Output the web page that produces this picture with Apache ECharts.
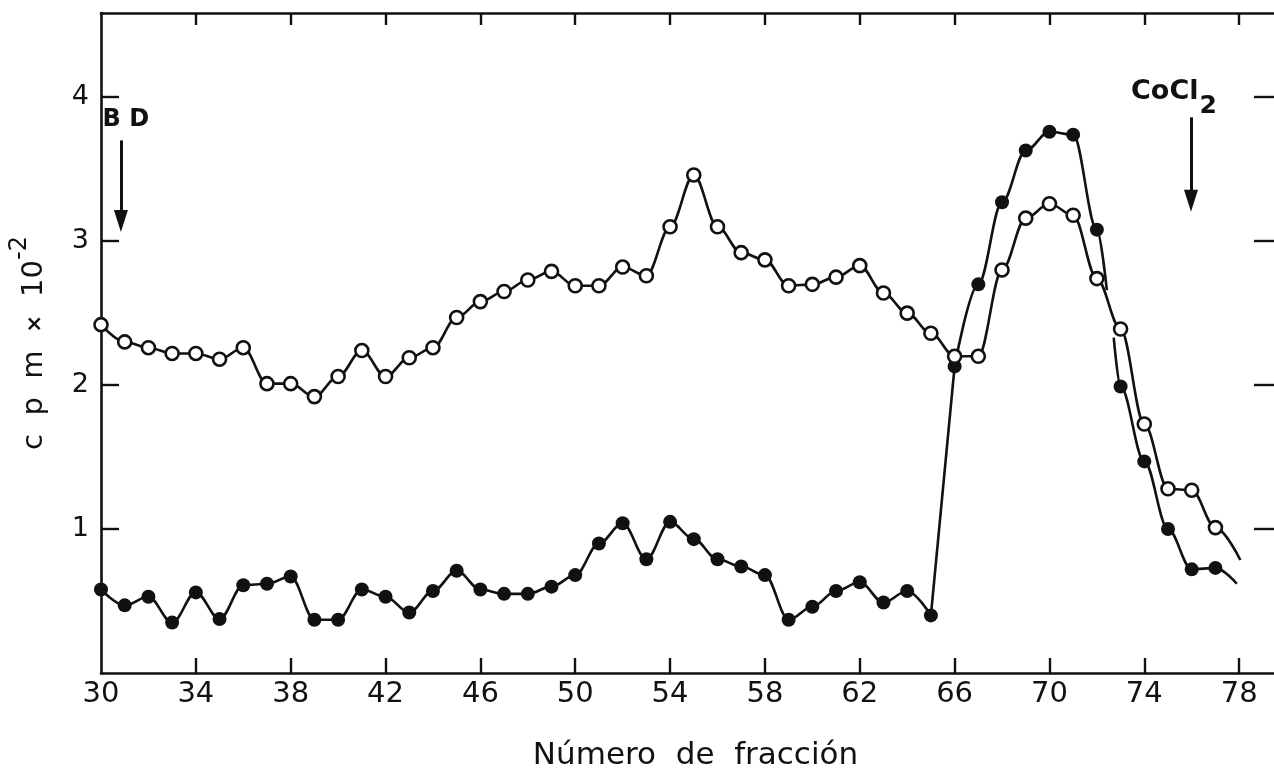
<!DOCTYPE html>
<html>
<head>
<meta charset="utf-8">
<script src="https://cdn.jsdelivr.net/npm/echarts@6/dist/echarts.min.js"></script>
<style>
  html, body { margin: 0; padding: 0; background: #fff; }
  #chart { width: 1274px; height: 769px; }
</style>
</head>
<body>
<div id="chart"></div>
<script>
// Fraction numbers collected from the column
const fractions = [30, 31, 32, 33, 34, 35, 36, 37, 38, 39, 40, 41, 42, 43, 44, 45,
                   46, 47, 48, 49, 50, 51, 52, 53, 54, 55, 56, 57, 58, 59, 60, 61,
                   62, 63, 64, 65, 66, 67, 68, 69, 70, 71, 72, 73, 74, 75, 76, 77];

// Radioactivity (cpm x 10^-2), open circles
const openValues = [2.42, 2.30, 2.26, 2.22, 2.22, 2.18, 2.26, 2.01, 2.01, 1.92, 2.06, 2.24,
                    2.06, 2.19, 2.26, 2.47, 2.58, 2.65, 2.73, 2.79, 2.69, 2.69, 2.82, 2.76,
                    3.10, 3.46, 3.10, 2.92, 2.87, 2.69, 2.70, 2.75, 2.83, 2.64, 2.50, 2.36,
                    2.20, 2.20, 2.80, 3.16, 3.26, 3.18, 2.74, 2.39, 1.73, 1.28, 1.27, 1.01];

// Radioactivity (cpm x 10^-2), filled circles
const filledValues = [0.58, 0.47, 0.53, 0.35, 0.56, 0.375, 0.61, 0.62, 0.67, 0.37, 0.37, 0.58,
                      0.53, 0.42, 0.57, 0.71, 0.58, 0.55, 0.55, 0.60, 0.68, 0.90, 1.04, 0.79,
                      1.05, 0.93, 0.79, 0.74, 0.68, 0.37, 0.46, 0.57, 0.63, 0.49, 0.57, 0.40,
                      2.13, 2.70, 3.27, 3.63, 3.76, 3.74, 3.08, 1.99, 1.47, 1.00, 0.72, 0.73];

// Free curve ends (no symbol): where the pen stops / restarts
const openTail = [78.05, 0.785];
const filledBreakEnd = [72.42, 2.66];
const filledBreakStart = [72.71, 2.33];
const filledTail = [77.9, 0.62];

// The filled curve rises in a straight step between these fractions,
// and is interrupted after the last one of its peak
const filledStep = [65, 66];
const filledSplitAt = 72;

// Tick positions / labels
const xTicks = [30, 34, 38, 42, 46, 50, 54, 58, 62, 66, 70, 74, 78];
const yTicks = [1, 2, 3, 4];

// Arrow annotations [fraction, value from, value to]
const bdArrow = [30.84, 3.70, 3.14];
const cocl2Arrow = [75.97, 3.86, 3.28];
const bdLabelAt = [31.05, 3.84];
const cocl2LabelAt = [75.25, 3.99];

const INK = '#111';
const FONT = 'DejaVu Sans';

const pairs = (xs, ys) => xs.map((x, i) => [x, ys[i]]);
const bare = (p) => ({ value: p, symbol: 'none' });

const openData = pairs(fractions, openValues).concat([bare(openTail)]);
const filledAll = pairs(fractions, filledValues);
const filledLow = filledAll.filter(p => p[0] <= filledStep[0]);
const filledRise = filledAll.filter(p => p[0] >= filledStep[0] && p[0] <= filledStep[1]).map(bare);
const filledPeak = filledAll.filter(p => p[0] >= filledStep[1] && p[0] <= filledSplitAt).concat([bare(filledBreakEnd)]);
const filledFall = [bare(filledBreakStart)].concat(filledAll.filter(p => p[0] > filledSplitAt), [bare(filledTail)]);

const filledStyle = {
  type: 'line',
  smooth: 0.35,
  smoothMonotone: 'x',
  symbol: 'circle',
  symbolSize: 14,
  lineStyle: { color: INK, width: 2.6 },
  itemStyle: { color: INK, borderColor: INK, borderWidth: 0 },
  z: 3
};

const chart = echarts.init(document.getElementById('chart'), null, { renderer: 'canvas' });

const axisLineStyle = { show: true, onZero: false, lineStyle: { color: INK, width: 2.6 } };
const tickLine = { color: INK, width: 2.4 };
const xTickValues = xTicks.slice(1);

chart.setOption({
  animation: false,
  backgroundColor: '#fff',
  grid: { left: 101, right: 0, top: 13, bottom: 96, containLabel: false, outerBoundsMode: 'none' },
  xAxis: [
    {
      type: 'value', position: 'bottom', min: 30, max: 79.47, interval: 4,
      axisLine: axisLineStyle,
      axisTick: { inside: true, length: 15, customValues: xTickValues, lineStyle: tickLine },
      splitLine: { show: false },
      axisLabel: {
        margin: 7, color: INK, fontSize: 29, fontFamily: FONT,
        customValues: xTicks,
        formatter: v => (xTicks.indexOf(v) >= 0 ? String(v) : '')
      },
      name: 'Número  de  fracción',
      nameLocation: 'middle', nameGap: 67,
      nameTextStyle: { color: INK, fontSize: 31, fontFamily: FONT, padding: [0, 0, 0, 16] }
    },
    {
      type: 'value', position: 'top', min: 30, max: 79.47, interval: 4,
      axisLine: axisLineStyle,
      axisTick: { show: true, inside: true, length: 12, customValues: xTickValues, lineStyle: tickLine },
      axisLabel: { show: false },
      splitLine: { show: false }
    }
  ],
  yAxis: [
    {
      type: 'value', position: 'left', min: 0, max: 4.585, interval: 1,
      axisLine: axisLineStyle,
      axisTick: { inside: true, length: 18, customValues: yTicks, lineStyle: tickLine },
      splitLine: { show: false },
      axisLabel: {
        margin: 12, color: INK, fontSize: 27, fontFamily: FONT,
        customValues: yTicks,
        formatter: v => (yTicks.indexOf(v) >= 0 ? String(v) : '')
      },
      name: '{t|c  p  m}{x|×}{t|10}{s|-2}',
      nameLocation: 'middle', nameRotate: 90, nameGap: 52,
      nameTextStyle: {
        color: INK, fontFamily: FONT,
        rich: {
          t: { fontSize: 29, fontFamily: FONT, color: INK, verticalAlign: 'bottom', padding: [12, 0, 0, 0] },
          x: { fontSize: 21, fontFamily: FONT, fontWeight: 'bold', color: INK, verticalAlign: 'bottom', padding: [12, 18, 3, 18] },
          s: { fontSize: 24, fontFamily: FONT, color: INK, verticalAlign: 'top' }
        }
      }
    },
    {
      type: 'value', position: 'right', min: 0, max: 4.585, interval: 1,
      axisLine: { show: false, onZero: false },
      axisTick: { inside: true, length: 20, customValues: yTicks, lineStyle: tickLine },
      axisLabel: { show: false },
      splitLine: { show: false }
    }
  ],
  series: [
    Object.assign({ name: 'filled-low', data: filledLow }, filledStyle),
    Object.assign({ name: 'filled-rise', data: filledRise }, filledStyle, { smooth: false }),
    Object.assign({ name: 'filled-peak', data: filledPeak }, filledStyle),
    Object.assign({ name: 'filled-fall', data: filledFall }, filledStyle),
    {
      name: 'open',
      type: 'line',
      smooth: 0.35,
      smoothMonotone: 'x',
      data: openData,
      symbol: 'circle',
      symbolSize: 13,
      lineStyle: { color: INK, width: 2.6 },
      itemStyle: { color: '#fff', borderColor: INK, borderWidth: 2.6 },
      z: 4,
      markLine: {
        silent: true,
        symbol: ['none', 'triangle'],
        symbolSize: [14, 22],
        label: { show: false },
        lineStyle: { color: INK, width: 3, type: 'solid' },
        itemStyle: { color: INK },
        data: [
          [{ coord: [bdArrow[0], bdArrow[1]] }, { coord: [bdArrow[0], bdArrow[2]] }],
          [{ coord: [cocl2Arrow[0], cocl2Arrow[1]] }, { coord: [cocl2Arrow[0], cocl2Arrow[2]] }]
        ]
      },
      markPoint: {
        silent: true,
        symbol: 'rect',
        symbolSize: 1,
        itemStyle: { color: 'rgba(0,0,0,0)' },
        label: { show: true, position: 'inside', color: INK, fontFamily: FONT },
        data: [
          {
            coord: bdLabelAt,
            label: { formatter: 'B D', fontSize: 24, fontWeight: 'bold', color: INK }
          },
          {
            coord: cocl2LabelAt,
            label: {
              formatter: '{a|CoCl}{s|2}',
              rich: {
                a: { fontSize: 27, fontWeight: 'bold', fontFamily: FONT, color: INK, verticalAlign: 'top' },
                s: { fontSize: 25, fontWeight: 'bold', fontFamily: FONT, color: INK, verticalAlign: 'top', padding: [16, 0, 0, 1] }
              }
            }
          }
        ]
      }
    }
  ]
});
</script>
</body>
</html>
